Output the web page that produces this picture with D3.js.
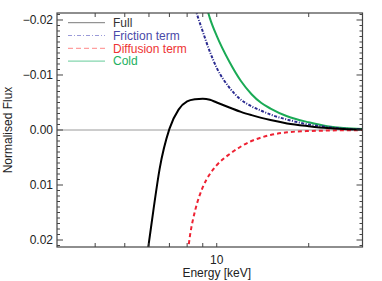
<!DOCTYPE html>
<html>
<head>
<meta charset="utf-8">
<script src="https://cdn.jsdelivr.net/npm/d3@7"></script>
<style>
  body { margin: 0; background: #fff; }
  text { font-family: "Liberation Sans", Arial, sans-serif; }
</style>
</head>
<body>
<script>
// data (energy in keV, normalised flux)
var energyFull = [5.9, 6.0, 6.2, 6.5, 7.0, 7.5, 8.0, 8.5, 9.0, 9.5, 10, 11, 12, 13, 14, 15, 17, 20, 23, 26, 30];
var fluxFull = [0.0233, 0.0204, 0.0147, 0.0071, -0.0002, -0.0037, -0.0052, -0.0056, -0.0057, -0.0055, -0.0050,
                -0.0041, -0.0033, -0.0027, -0.0022, -0.0018, -0.0012, -0.0007, -0.00036, -0.0002, -0.0001];

var energyFriction = [8.5, 9.0, 9.5, 10, 11, 12, 13, 14, 15, 17, 20, 23, 26, 30];
var fluxFriction = [-0.0220, -0.0179, -0.0142, -0.0113, -0.0077, -0.0055, -0.0043, -0.0035, -0.0028,
                    -0.0019, -0.0010, -0.00055, -0.00025, -0.0001];

var energyDiffusion = [7.9, 8.0, 8.2, 8.5, 9.0, 9.5, 10, 11, 12, 13, 14, 15, 17, 20, 23, 26, 30];
var fluxDiffusion = [0.0245, 0.0229, 0.0187, 0.0146, 0.0104, 0.0080, 0.0064, 0.0044, 0.0030, 0.0020,
                     0.00136, 0.0009, 0.00042, 0.00018, 0.0001, 0.00005, 0.00002];

var energyCold = [9.3, 9.5, 10, 11, 12, 13, 14, 15, 17, 20, 23, 26, 30];
var fluxCold = [-0.0220, -0.0203, -0.0171, -0.0124, -0.0089, -0.0065, -0.0049, -0.0039, -0.0025,
                -0.0014, -0.0007, -0.00036, -0.0002];

var seriesNames = ["Full", "Friction term", "Diffusion term", "Cold"];
var xTicks = [4, 5, 6, 7, 8, 9, 10, 20];
var xTickLabels = {10: "10"};
var yTicks = [-0.02, -0.01, 0.00, 0.01, 0.02];
var yTickLabels = ["\u22120.02", "\u22120.01", "0.00", "0.01", "0.02"];

// canvas
var W = 382, H = 281;
var plotLeft = 57, plotRight = 362.5, plotTop = 13, plotBottom = 247;
var fontSize = 12;

var svg = d3.select("body").append("svg")
    .attr("width", W)
    .attr("height", H);

// scales (y axis reversed: negative flux on top)
var x = d3.scaleLog().domain([3, 30]).range([plotLeft, plotRight]);
var y = d3.scaleLinear().domain([-0.02127, 0.02127]).range([plotTop, plotBottom]);

svg.append("clipPath").attr("id", "plotClip")
  .append("rect")
    .attr("x", plotLeft).attr("y", plotTop)
    .attr("width", plotRight - plotLeft).attr("height", plotBottom - plotTop);

// zero line
svg.append("line")
    .attr("x1", plotLeft).attr("x2", plotRight)
    .attr("y1", y(0)).attr("y2", y(0))
    .attr("stroke", "#9a9a9a")
    .attr("stroke-width", 1);

// curves
var line = d3.line()
    .x(function(d) { return x(d[0]); })
    .y(function(d) { return y(d[1]); })
    .curve(d3.curveMonotoneX);

var styles = [
  {e: energyFull, f: fluxFull, color: "#000000", dash: null, legDash: null, legColor: "#7a7a7a", textColor: "#333333"},
  {e: energyFriction, f: fluxFriction, color: "#2a2a90", dash: "3,1.5,1,1.5", legDash: "4,2,1,2", legColor: "#9a9ad8", textColor: "#4a4aa8"},
  {e: energyDiffusion, f: fluxDiffusion, color: "#ee2233", dash: "4,3", legDash: "5,3", legColor: "#ff8888", textColor: "#ee3333"},
  {e: energyCold, f: fluxCold, color: "#1aaa55", dash: null, legDash: null, legColor: "#66cc99", textColor: "#22b060"}
];

var curves = svg.append("g").attr("clip-path", "url(#plotClip)");
// draw order: Full last so it sits on top near the tail
[3, 1, 2, 0].forEach(function(i) {
  var s = styles[i];
  curves.append("path")
      .datum(d3.zip(s.e, s.f))
      .attr("fill", "none")
      .attr("stroke", s.color)
      .attr("stroke-width", 2)
      .attr("stroke-dasharray", s.dash)
      .attr("d", line);
});

// frame
var axisColor = "#444";
svg.append("rect")
    .attr("x", plotLeft).attr("y", plotTop)
    .attr("width", plotRight - plotLeft).attr("height", plotBottom - plotTop)
    .attr("fill", "none")
    .attr("stroke", axisColor)
    .attr("stroke-width", 1.2);

// x ticks (inward, bottom and top)
var tickG = svg.append("g").attr("stroke", axisColor).attr("stroke-width", 1);
xTicks.forEach(function(t) {
  tickG.append("line").attr("x1", x(t)).attr("x2", x(t)).attr("y1", plotBottom).attr("y2", plotBottom - 4);
  tickG.append("line").attr("x1", x(t)).attr("x2", x(t)).attr("y1", plotTop).attr("y2", plotTop + 4);
});

// y ticks: majors every 0.01, minors every 0.001 (inward, left and right)
d3.range(-21, 22).forEach(function(k) {
  var v = k / 1000;
  var len = (k % 10 === 0) ? 6 : 3;
  tickG.append("line").attr("x1", plotLeft).attr("x2", plotLeft + len).attr("y1", y(v)).attr("y2", y(v));
  tickG.append("line").attr("x1", plotRight).attr("x2", plotRight - len).attr("y1", y(v)).attr("y2", y(v));
});

// tick labels
svg.selectAll(".ylab")
    .data(yTicks)
  .enter().append("text")
    .attr("class", "ylab")
    .attr("x", plotLeft - 4)
    .attr("y", function(d) { return y(d); })
    .attr("dy", "0.36em")
    .attr("text-anchor", "end")
    .attr("font-size", fontSize)
    .attr("fill", "#222")
    .text(function(d, i) { return yTickLabels[i]; });

svg.selectAll(".xlab")
    .data(xTicks.filter(function(t) { return xTickLabels[t]; }))
  .enter().append("text")
    .attr("class", "xlab")
    .attr("x", function(d) { return x(d); })
    .attr("y", 264)
    .attr("text-anchor", "middle")
    .attr("font-size", fontSize)
    .attr("fill", "#222")
    .text(function(d) { return xTickLabels[d]; });

// axis titles
svg.append("text")
    .attr("x", x(10))
    .attr("y", 277)
    .attr("text-anchor", "middle")
    .attr("font-size", fontSize)
    .attr("fill", "#222")
    .text("Energy [keV]");

svg.append("text")
    .attr("transform", "translate(12," + y(0) + ") rotate(-90)")
    .attr("text-anchor", "middle")
    .attr("font-size", fontSize)
    .attr("fill", "#222")
    .text("Normalised Flux");

// legend
var legend = svg.append("g");
seriesNames.forEach(function(name, i) {
  var s = styles[i];
  var ly = 22.7 + i * 12.8;
  legend.append("line")
      .attr("x1", 68).attr("x2", 105)
      .attr("y1", ly).attr("y2", ly)
      .attr("stroke", s.legColor)
      .attr("stroke-width", 1)
      .attr("stroke-dasharray", s.legDash);
  legend.append("text")
      .attr("x", 113)
      .attr("y", ly)
      .attr("dy", "0.36em")
      .attr("font-size", fontSize)
      .attr("fill", s.textColor)
      .text(name);
});
</script>
</body>
</html>
